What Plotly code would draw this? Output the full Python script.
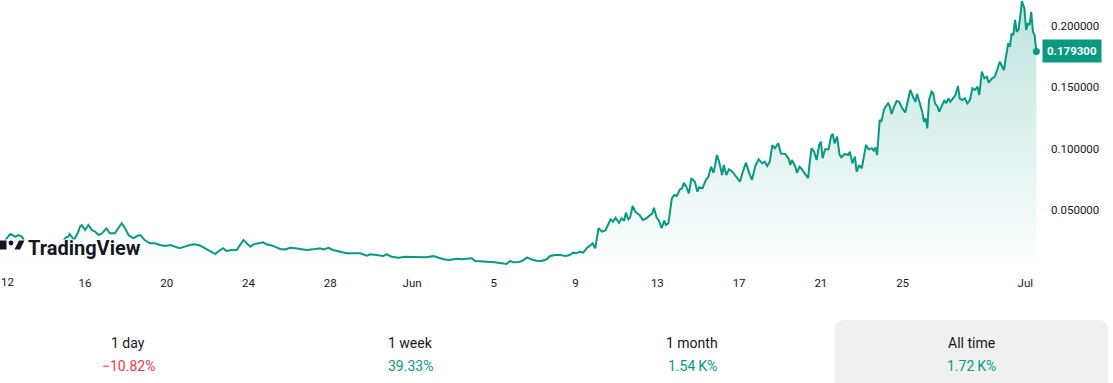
import pandas as pd
import plotly.graph_objects as go

# ---- data ----
base_time = "2024-05-12 00:00"
hours = [
    -4, 2, 7, 9, 14, 18, 22, 25, 34, 43, 52, 62, 70, 74, 76, 78, 83, 88, 90, 92,
    96, 100, 104, 108, 112, 116, 118, 121, 125, 131, 135, 139, 143, 147, 153, 157, 161, 166, 172, 178,
    184, 190, 196, 202, 207, 213, 219, 225, 231, 237,
    243, 249, 252, 258, 262, 268, 274, 278, 282, 286, 290, 294, 299, 305, 309, 313, 319, 325, 331, 337,
    343, 348, 356, 364, 372, 376, 382, 387, 395, 403, 411, 419, 427, 431, 438, 446, 450, 456, 464, 472,
    481, 489, 497, 505, 511, 517, 524, 532, 538, 544, 550, 554, 562, 569, 577, 585, 591, 595, 599, 605,
    609, 615, 620, 626, 632, 638, 642, 648, 654, 660, 665, 669, 673, 677, 681, 685, 689, 692, 695, 699,
    703, 707, 710,
    713, 716, 719, 723, 726, 729, 731, 734, 736, 739, 742, 747, 751, 755, 759, 762, 764, 767, 770, 773,
    776, 778, 781, 785, 788, 791, 794, 797, 799, 802, 805, 808, 812, 815, 817, 821, 825, 828, 831, 834,
    838, 841, 844, 846, 849, 852, 856, 860, 865, 868, 872, 876, 879, 883, 887, 891, 894, 897, 900, 903,
    906, 910, 913,
    918, 922, 924, 926, 930, 932, 935, 937, 941, 945, 947, 949, 952, 955, 958, 960, 962, 965, 969, 972,
    974, 976, 979, 982, 984, 988, 992, 994, 997, 1000, 1002, 1005, 1008, 1011, 1013, 1016, 1020, 1022, 1024, 1026,
    1029, 1031, 1034, 1036, 1039, 1041, 1043, 1046, 1049, 1052, 1055, 1059, 1063, 1065, 1069, 1071, 1073, 1076, 1079, 1081,
    1083, 1085, 1087, 1090, 1092, 1094, 1097, 1099, 1102, 1105, 1107, 1110, 1112, 1115, 1118, 1121, 1123, 1126, 1129, 1132,
    1135, 1138, 1141, 1144, 1146, 1149, 1152, 1155, 1157, 1161, 1164, 1167, 1170, 1172, 1175, 1177, 1180, 1182, 1184, 1186,
    1188, 1190, 1192, 1195, 1196, 1199, 1201, 1203, 1205, 1207, 1209, 1211, 1213,
]
prices = [
    0.0231, 0.0247, 0.0296, 0.0304, 0.0282, 0.0296, 0.0282, 0.0241, 0.0223, 0.0231, 0.0215, 0.0231, 0.0247, 0.0280, 0.0282, 0.0304, 0.0255, 0.0321, 0.0364, 0.0378,
    0.0337, 0.0378, 0.0337, 0.0323, 0.0296, 0.0310, 0.0329, 0.0351, 0.0310, 0.0310, 0.0351, 0.0392, 0.0351, 0.0296, 0.0269, 0.0288, 0.0296, 0.0255, 0.0228, 0.0228,
    0.0215, 0.0206, 0.0215, 0.0201, 0.0188, 0.0201, 0.0215, 0.0220, 0.0210, 0.0188,
    0.0166, 0.0141, 0.0160, 0.0188, 0.0166, 0.0174, 0.0174, 0.0215, 0.0255, 0.0228, 0.0201, 0.0220, 0.0228, 0.0237, 0.0220, 0.0215, 0.0201, 0.0182, 0.0179, 0.0192,
    0.0188, 0.0182, 0.0174, 0.0179, 0.0188, 0.0179, 0.0192, 0.0174, 0.0160, 0.0147, 0.0147, 0.0147, 0.0127, 0.0139, 0.0133, 0.0125, 0.0139, 0.0119, 0.0111, 0.0119,
    0.0117, 0.0114, 0.0114, 0.0125, 0.0114, 0.0098, 0.0092, 0.0103, 0.0098, 0.0100, 0.0106, 0.0084, 0.0082, 0.0078, 0.0073, 0.0065, 0.0060, 0.0084, 0.0073, 0.0076,
    0.0084, 0.0114, 0.0098, 0.0086, 0.0084, 0.0098, 0.0125, 0.0133, 0.0133, 0.0125, 0.0133, 0.0152, 0.0147, 0.0160, 0.0152, 0.0188, 0.0215, 0.0228, 0.0188, 0.0351,
    0.0323, 0.0333, 0.0378,
    0.0424, 0.0405, 0.0437, 0.0396, 0.0432, 0.0413, 0.0478, 0.0424, 0.0440, 0.0533, 0.0486, 0.0459, 0.0418, 0.0432, 0.0459, 0.0473, 0.0519, 0.0440, 0.0413, 0.0351,
    0.0413, 0.0378, 0.0392, 0.0595, 0.0622, 0.0614, 0.0663, 0.0677, 0.0723, 0.0690, 0.0636, 0.0759, 0.0731, 0.0649, 0.0685, 0.0677, 0.0745, 0.0772, 0.0853, 0.0804,
    0.0949, 0.0881, 0.0785, 0.0867, 0.0785, 0.0832, 0.0812, 0.0772, 0.0731, 0.0804, 0.0886, 0.0799, 0.0745, 0.0859, 0.0914, 0.0881, 0.0894, 0.0859, 0.0894, 0.1030,
    0.1003, 0.1044, 0.0962,
    0.0957, 0.0922, 0.0867, 0.0908, 0.0853, 0.0804, 0.0853, 0.0840, 0.0799, 0.0759, 0.0894, 0.1003, 0.0976, 0.0908, 0.1030, 0.1057, 0.0922, 0.0995, 0.0995, 0.1104,
    0.1120, 0.1044, 0.1098, 0.0949, 0.0930, 0.0957, 0.0949, 0.0976, 0.0881, 0.0935, 0.0812, 0.0867, 0.0840, 0.0976, 0.1030, 0.0995, 0.1003, 0.0984, 0.1011, 0.0949,
    0.1234, 0.1220, 0.1316, 0.1343, 0.1370, 0.1343, 0.1283, 0.1343, 0.1389, 0.1383, 0.1336, 0.1295, 0.1424, 0.1479, 0.1411, 0.1383, 0.1446, 0.1370, 0.1302, 0.1220,
    0.1248, 0.1166, 0.1397, 0.1465, 0.1452, 0.1370, 0.1343, 0.1302, 0.1356, 0.1397, 0.1370, 0.1411, 0.1383, 0.1411, 0.1438, 0.1511, 0.1411, 0.1397, 0.1411, 0.1370,
    0.1397, 0.1493, 0.1479, 0.1506, 0.1438, 0.1628, 0.1574, 0.1587, 0.1538, 0.1574, 0.1587, 0.1642, 0.1710, 0.1683, 0.1642, 0.1737, 0.1860, 0.1832, 0.1941, 0.1927,
    0.2050, 0.1954, 0.1968, 0.2131, 0.2205, 0.2145, 0.1968, 0.2023, 0.2009, 0.2117, 0.1954, 0.1927, 0.1793,
]
last_price_label = "0.179300"

tick_dates = ["2024-05-12", "2024-05-16", "2024-05-20", "2024-05-24", "2024-05-28", "2024-06-01",
              "2024-06-05", "2024-06-09", "2024-06-13", "2024-06-17", "2024-06-21", "2024-06-25", "2024-07-01"]
tick_labels = ["12", "16", "20", "24", "28", "Jun", "5", "9", "13", "17", "21", "25", "Jul"]
y_ticks = [0.05, 0.10, 0.15, 0.20]

periods = ["1 day", "1 week", "1 month", "All time"]
changes = ["\u221210.82%", "39.33%", "1.54\u2009K%", "1.72\u2009K%"]
change_up = [False, True, True, True]

# ---- figure ----
GREEN = "#089981"
RED = "#f23645"
TEXT = "#131722"
FONT = "Roboto"

dates = pd.Timestamp(base_time) + pd.to_timedelta(hours, unit="h")

fig = go.Figure()
fig.add_trace(go.Scatter(
    x=dates, y=prices, mode="lines",
    line=dict(color=GREEN, width=2),
    fill="tozeroy",
    fillgradient=dict(type="vertical", start=0.0, stop=0.2213,
                      colorscale=[[0, "rgba(8,153,129,0.0)"], [1, "rgba(8,153,129,0.27)"]]),
    hoverinfo="skip", showlegend=False,
))
fig.add_trace(go.Scatter(
    x=[dates[-1]], y=[prices[-1]], mode="markers",
    marker=dict(color=GREEN, size=7), hoverinfo="skip", showlegend=False,
))

PW, PH = 1040.0, 268.0  # plot area in px


def px(x):
    return x / PW


def py(y):
    return (PH - y) / PH


shapes = []
# white backing behind the watermark
shapes.append(dict(type="rect", xref="paper", yref="paper", layer="above",
                   x0=px(-2), x1=px(143), y0=py(259), y1=py(239.5),
                   fillcolor="white", line=dict(width=0)))
# TradingView logo icon
shapes.append(dict(type="rect", xref="paper", yref="paper", layer="above",
                   x0=px(-1), x1=px(6.5), y0=py(249.5), y1=py(240.5),
                   fillcolor=TEXT, line=dict(width=0)))
shapes.append(dict(type="circle", xref="paper", yref="paper", layer="above",
                   x0=px(8.6), x1=px(13.4), y0=py(245.4), y1=py(240.6),
                   fillcolor=TEXT, line=dict(width=0)))
shapes.append(dict(type="path", xref="paper", yref="paper", layer="above",
                   path=f"M {px(14.5)},{py(249.5)} L {px(19)},{py(240.5)} L {px(24.5)},{py(240.5)} L {px(20)},{py(249.5)} Z",
                   fillcolor=TEXT, line=dict(width=0)))
# "All time" highlighted box with rounded top corners
bx0, bx1, by_top, by_bot = px(835), px(1108), py(320), py(395)
rx, ry = 10 / PW, 10 / PH
shapes.append(dict(
    type="path", xref="paper", yref="paper", layer="below",
    path=(f"M {bx0 + rx},{by_top} L {bx1 - rx},{by_top} Q {bx1},{by_top} {bx1},{by_top - ry} "
          f"L {bx1},{by_bot} L {bx0},{by_bot} L {bx0},{by_top - ry} Q {bx0},{by_top} {bx0 + rx},{by_top} Z"),
    fillcolor="#f0f0f0", line=dict(width=0)))

annotations = []
# first time label sits at the very left edge (plotly hides it as an axis tick label)
annotations.append(dict(text=tick_labels[0], xref="paper", yref="paper",
                        x=0, y=py(282), xanchor="left", yanchor="middle", xshift=-1,
                        showarrow=False, font=dict(family=FONT, size=11.5, color=TEXT)))
annotations.append(dict(text="<b>TradingView</b>", xref="paper", yref="paper",
                        x=px(26), y=py(247.5), xanchor="left", yanchor="middle",
                        showarrow=False, font=dict(family=FONT, size=20, color=TEXT)))
annotations.append(dict(text=f"<b>{last_price_label}</b>", xref="paper", yref="y",
                        x=1, y=prices[-1], xanchor="left", yanchor="middle", xshift=2,
                        showarrow=False, bgcolor=GREEN, borderpad=4,
                        font=dict(family=FONT, size=11.5, color="white")))
centers = [128, 410, 692, 971]
for cx, p, c, up in zip(centers, periods, changes, change_up):
    annotations.append(dict(text=p, xref="paper", yref="paper", x=px(cx), y=py(343),
                            xanchor="center", yanchor="middle", showarrow=False,
                            font=dict(family=FONT, size=14, color=TEXT)))
    annotations.append(dict(text=c, xref="paper", yref="paper", x=px(cx), y=py(366),
                            xanchor="center", yanchor="middle", showarrow=False,
                            font=dict(family=FONT, size=14, color=GREEN if up else RED)))

fig.update_layout(
    width=1113, height=383,
    margin=dict(l=0, r=1113 - int(PW), t=0, b=383 - int(PH)),
    paper_bgcolor="white", plot_bgcolor="white",
    font=dict(family=FONT, color=TEXT),
    shapes=shapes, annotations=annotations,
    xaxis=dict(
        type="date", range=["2024-05-11 20:07", "2024-07-01 17:18"],
        tickvals=tick_dates, ticktext=tick_labels,
        showgrid=False, zeroline=False, showline=False, ticks="",
        tickfont=dict(family=FONT, size=11.5, color=TEXT),
        ticklabelstandoff=6, fixedrange=True,
    ),
    yaxis=dict(
        side="right", range=[0.0027, 0.2213],
        tickvals=y_ticks, tickformat=".6f",
        showgrid=False, zeroline=False, showline=False, ticks="",
        tickfont=dict(family=FONT, size=11.5, color=TEXT),
        ticklabelstandoff=10, fixedrange=True,
    ),
)

fig.write_html("out.html", config={"displayModeBar": False},
               post_script="document.body.style.margin='0';document.body.style.overflow='hidden';")
